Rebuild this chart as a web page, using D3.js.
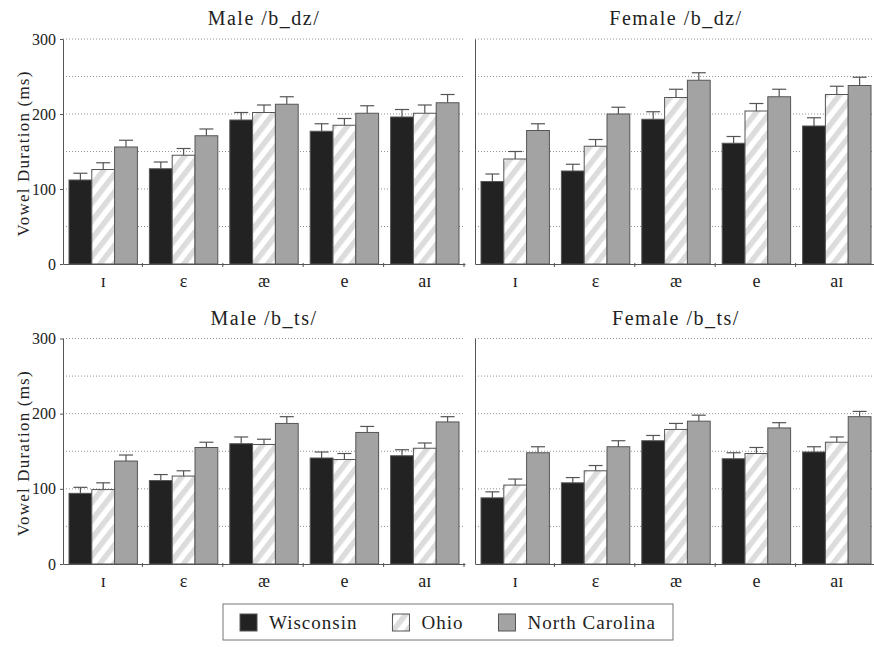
<!DOCTYPE html>
<html>
<head>
<meta charset="utf-8">
<script src="https://cdn.jsdelivr.net/npm/d3@7"></script>
<style>
  body { margin: 0; background: #fff; }
  svg text { fill: #222; }
</style>
</head>
<body>
<svg id="chart"></svg>
<script>
// categories / series
var vowels = ["ɪ", "ɛ", "æ", "e", "aɪ"];
var dialects = ["Wisconsin", "Ohio", "North Carolina"];
var panelTitles = ["Male /b_dz/", "Female /b_dz/", "Male /b_ts/", "Female /b_ts/"];
var yTickVals = [0, 100, 200, 300];
var gridVals = [50, 100, 150, 200, 250, 300];

// means (ms), one row per dialect: Wisconsin, Ohio, North Carolina
var maleDzMeans   = [[112, 127, 192, 177, 196], [126, 145, 202, 185, 201], [156, 171, 213, 201, 215]];
var maleDzSE      = [[9, 9, 10, 10, 10], [9, 9, 10, 9, 11], [9, 9, 10, 10, 11]];
var femaleDzMeans = [[110, 124, 193, 161, 184], [140, 157, 222, 204, 226], [178, 200, 245, 223, 238]];
var femaleDzSE    = [[10, 9, 10, 9, 11], [10, 9, 11, 10, 11], [9, 9, 10, 10, 11]];
var maleTsMeans   = [[94, 111, 160, 141, 144], [99, 117, 159, 139, 154], [137, 155, 187, 175, 189]];
var maleTsSE      = [[8, 8, 9, 8, 8], [9, 7, 7, 8, 7], [8, 7, 9, 8, 7]];
var femaleTsMeans = [[88, 108, 164, 140, 149], [105, 124, 179, 147, 162], [148, 156, 190, 181, 196]];
var femaleTsSE    = [[8, 7, 7, 8, 7], [8, 7, 8, 8, 7], [8, 8, 8, 7, 7]];

var panelMeans = [maleDzMeans, femaleDzMeans, maleTsMeans, femaleTsMeans];
var panelSE = [maleDzSE, femaleDzSE, maleTsSE, femaleTsSE];

var serif = "'Liberation Serif', 'DejaVu Serif', 'Noto Serif', 'Times New Roman', Times, Tinos, FreeSerif, Georgia, serif";

var screen = { width: 874, height: 647 };
var svg = d3.select("#chart")
            .attr("width", screen.width)
            .attr("height", screen.height)
            .style("display", "block");

var defs = svg.append("defs");
var hatch = defs.append("pattern")
                .attr("id", "hatch")
                .attr("patternUnits", "userSpaceOnUse")
                .attr("width", 11)
                .attr("height", 11)
                .attr("patternTransform", "rotate(38)");
hatch.append("rect").attr("width", 11).attr("height", 11).attr("fill", "#fff");
hatch.append("rect").attr("width", 5.5).attr("height", 11).attr("fill", "#dcdcdc");

var fills = { "Wisconsin": "#222", "Ohio": "url(#hatch)", "North Carolina": "#a3a3a3" };

var colX = [63, 475];
var rowY = [[39, 264], [338.5, 564]];
var plotW = 402;

var x0 = d3.scaleBand().domain(vowels).range([0, plotW]);
var x1 = d3.scaleBand().domain(dialects).range([6, x0.bandwidth() - 6]);

panelTitles.forEach(function(title, p) {
  var col = p % 2, row = Math.floor(p / 2);
  var top = rowY[row][0], bottom = rowY[row][1];
  var yScale = d3.scaleLinear().domain([0, 300]).range([bottom - top, 0]);

  var g = svg.append("g")
             .classed("panel", true)
             .attr("transform", "translate(" + colX[col] + "," + top + ")");

  // grid
  g.selectAll("line.grid")
   .data(gridVals)
   .enter()
   .append("line")
   .classed("grid", true)
   .attr("x1", 0)
   .attr("x2", plotW)
   .attr("y1", function(d) { return yScale(d); })
   .attr("y2", function(d) { return yScale(d); })
   .attr("stroke", "#777")
   .attr("stroke-width", 0.8)
   .attr("stroke-dasharray", "1,2");

  // bars
  var rows = [];
  dialects.forEach(function(dl, di) {
    vowels.forEach(function(v, vi) {
      rows.push({ dialect: dl, vowel: v, mean: panelMeans[p][di][vi], se: panelSE[p][di][vi] });
    });
  });

  var bars = g.selectAll("g.bar")
              .data(rows)
              .enter()
              .append("g")
              .classed("bar", true);

  bars.append("line")
      .attr("x1", function(d) { return x0(d.vowel) + x1(d.dialect) + x1.bandwidth() / 2; })
      .attr("x2", function(d) { return x0(d.vowel) + x1(d.dialect) + x1.bandwidth() / 2; })
      .attr("y1", function(d) { return yScale(d.mean); })
      .attr("y2", function(d) { return yScale(d.mean + d.se); })
      .attr("stroke", "#555")
      .attr("stroke-width", 1.2);

  bars.append("line")
      .attr("x1", function(d) { return x0(d.vowel) + x1(d.dialect) + x1.bandwidth() / 2 - 7; })
      .attr("x2", function(d) { return x0(d.vowel) + x1(d.dialect) + x1.bandwidth() / 2 + 7; })
      .attr("y1", function(d) { return yScale(d.mean + d.se); })
      .attr("y2", function(d) { return yScale(d.mean + d.se); })
      .attr("stroke", "#555")
      .attr("stroke-width", 1.2);

  bars.append("rect")
      .attr("x", function(d) { return x0(d.vowel) + x1(d.dialect); })
      .attr("y", function(d) { return yScale(d.mean); })
      .attr("width", x1.bandwidth())
      .attr("height", function(d) { return yScale(0) - yScale(d.mean); })
      .attr("fill", function(d) { return fills[d.dialect]; })
      .attr("stroke", "#555")
      .attr("stroke-width", 1);

  // y axis
  var yAxis = d3.axisLeft(yScale)
                .tickValues(yTickVals)
                .tickSize(col === 0 ? 3 : 0)
                .tickSizeOuter(0)
                .tickPadding(4)
                .tickFormat(col === 0 ? d3.format("d") : "");
  var ya = g.append("g").classed("yAxis", true).call(yAxis).attr("font-family", serif);
  ya.select(".domain").attr("stroke", "#555");
  ya.selectAll(".tick line").attr("stroke", "#555");
  ya.selectAll(".tick text")
    .attr("font-size", 16)
    .attr("fill", "#222");

  // x axis
  var xAxis = d3.axisBottom(x0).tickSize(0).tickSizeOuter(0).tickPadding(10);
  var xa = g.append("g")
            .classed("xAxis", true)
            .attr("transform", "translate(0," + yScale(0) + ")")
            .call(xAxis)
            .attr("font-family", serif);
  xa.select(".domain").attr("stroke", "#555");
  xa.selectAll(".tick text")
    .attr("font-size", 18)
    .attr("fill", "#222");

  xa.selectAll("line.sep")
    .data(vowels)
    .enter()
    .append("line")
    .classed("sep", true)
    .attr("x1", function(d) { return x0(d) + x0.bandwidth() - 1; })
    .attr("x2", function(d) { return x0(d) + x0.bandwidth() - 1; })
    .attr("y1", -1)
    .attr("y2", 3)
    .attr("stroke", "#555");

  // title
  svg.append("text")
     .attr("x", colX[col] + plotW / 2)
     .attr("y", top - 14)
     .attr("text-anchor", "middle")
     .attr("font-family", serif)
     .attr("font-size", 20)
     .attr("letter-spacing", 1.5)
     .text(title);

  if (col === 0) {
    svg.append("text")
       .attr("transform", "translate(29," + ((top + bottom) / 2 + 2) + ") rotate(-90)")
       .attr("text-anchor", "middle")
       .attr("font-family", serif)
       .attr("font-size", 17)
       .attr("letter-spacing", 1.2)
       .text("Vowel Duration (ms)");
  }
});

// legend
var legend = svg.append("g").classed("legend", true);
var box = legend.append("rect")
                .attr("fill", "#fff")
                .attr("stroke", "#777")
                .attr("stroke-width", 1);

var items = legend.selectAll("g.item")
                  .data(dialects)
                  .enter()
                  .append("g")
                  .classed("item", true);

items.append("rect")
     .attr("x", 0)
     .attr("y", -13)
     .attr("width", 17)
     .attr("height", 17)
     .attr("fill", function(d) { return fills[d]; })
     .attr("stroke", "#555");

items.append("text")
     .attr("x", 29)
     .attr("y", 2)
     .attr("font-family", serif)
     .attr("font-size", 19)
     .attr("letter-spacing", 1)
     .text(function(d) { return d; });

var offsets = [];
var cursor = 0;
items.each(function() {
  offsets.push(cursor);
  cursor += 29 + d3.select(this).select("text").node().getComputedTextLength() + 35;
});
var legendW = cursor - 35;
var legendX = 448 - legendW / 2;
items.attr("transform", function(d, i) { return "translate(" + (legendX + offsets[i]) + ",627)"; });
box.attr("x", legendX - 17)
   .attr("y", 604)
   .attr("width", legendW + 34)
   .attr("height", 36);
</script>
</body>
</html>
